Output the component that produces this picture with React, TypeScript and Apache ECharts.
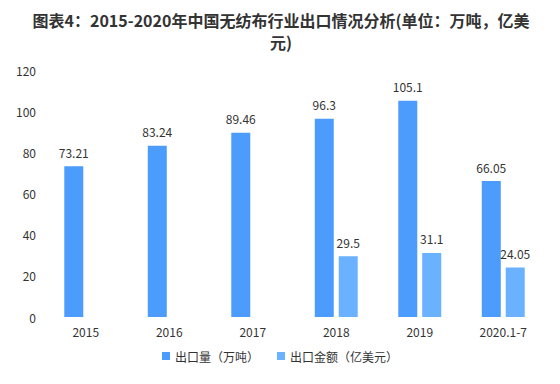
import React, { useEffect, useRef } from "react";
import * as echarts from "echarts";

const categories = ["2015", "2016", "2017", "2018", "2019", "2020.1-7"];
const volume = [73.21, 83.24, 89.46, 96.3, 105.1, 66.05];
const amount: (number | null)[] = [null, null, null, 29.5, 31.1, 24.05];
const seriesNames = ["出口量（万吨）", "出口金额（亿美元）"];
const titleText = "图表4：2015-2020年中国无纺布行业出口情况分析(单位：万吨，亿美\n元)";

export default function App() {
  const ref = useRef<HTMLDivElement>(null);
  useEffect(() => {
    const chart = echarts.init(ref.current!, null, { renderer: "svg" });
    const font = "'Noto Sans CJK SC', 'Microsoft YaHei', sans-serif";
    chart.setOption({
      animation: false,
      textStyle: { fontFamily: font },
      title: {
        text: titleText,
        left: 276,
        top: 4,
        textAlign: "center",
        textStyle: { fontSize: 16, fontWeight: "bold", color: "#333", lineHeight: 22, fontFamily: font },
      },
      legend: {
        bottom: 17,
        left: "center",
        itemWidth: 8,
        itemHeight: 8,
        icon: "rect",
        itemGap: 18,
        textStyle: { fontSize: 12, color: "#333", fontFamily: font },
        data: seriesNames,
      },
      grid: { left: 44, right: 15, top: 70, bottom: 67 },
      xAxis: {
        type: "category",
        data: categories,
        axisLine: { show: false },
        axisTick: { show: false },
        axisLabel: { color: "#333", fontSize: 12, margin: 8 },
      },
      yAxis: {
        type: "value",
        min: 0,
        max: 120,
        interval: 20,
        splitLine: { show: false },
        axisLine: { show: false },
        axisTick: { show: false },
        axisLabel: { color: "#333", fontSize: 12, margin: 8 },
      },
      series: [
        {
          name: seriesNames[0],
          type: "bar",
          data: volume,
          barWidth: 19,
          barGap: "26%",
          itemStyle: { color: "#4C9CFE" },
          label: { show: true, position: "top", color: "#333", fontSize: 12, distance: 8 },
        },
        {
          name: seriesNames[1],
          type: "bar",
          data: amount,
          barWidth: 19,
          itemStyle: { color: "#6AB1FF" },
          label: { show: true, position: "top", color: "#333", fontSize: 12, distance: 8 },
        },
      ],
    });
    return () => chart.dispose();
  }, []);
  return (
    <div
      ref={ref}
      style={{ position: "absolute", left: 0, top: 0, width: 560, height: 384, background: "#fff" }}
    />
  );
}
